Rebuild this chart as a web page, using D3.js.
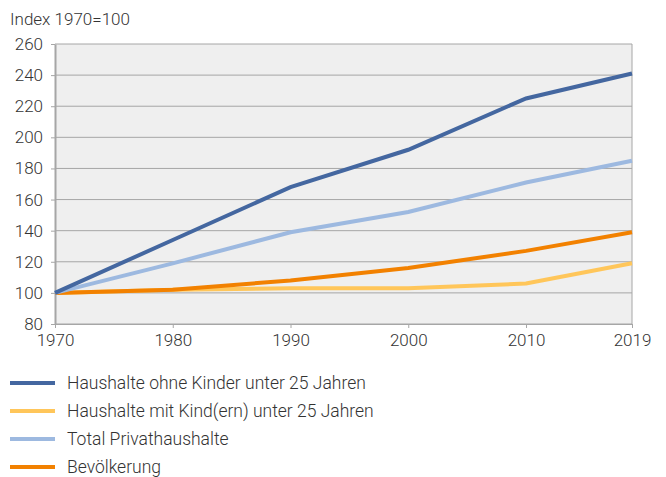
<!DOCTYPE html>
<html>
<head>
<meta charset="utf-8">
<script src="https://cdn.jsdelivr.net/npm/d3@7"></script>
<style>
  body { margin: 0; background: #fff; font-family: Roboto, "Noto Sans", sans-serif; }
  text { font-family: Roboto, sans-serif; font-weight: 300; }
  .axis text { font-size: 17px; fill: #333; }
  .axis path, .axis line { stroke: #a6a6a6; }
</style>
</head>
<body>
<div class="chart"></div>
<script>
const width = 666;
const height = 477;
const margin = {top: 44, right: 34, bottom: 153, left: 55};
const innerWidth = width - margin.left - margin.right;
const innerHeight = height - margin.top - margin.bottom;

// data
const years = [1970, 1980, 1990, 2000, 2010, 2019];
const ohneKinder = [100, 134, 168, 192, 225, 241];
const mitKindern = [100, 102, 103, 103, 106, 119];
const totalHaushalte = [100, 119, 139, 152, 171, 185];
const bevoelkerung = [100, 102, 108, 116, 127, 139];
const yTicks = [80, 100, 120, 140, 160, 180, 200, 220, 240, 260];

const series = [
  {name: 'Haushalte ohne Kinder unter 25 Jahren', values: ohneKinder, color: '#4467a0'},
  {name: 'Haushalte mit Kind(ern) unter 25 Jahren', values: mitKindern, color: '#ffc65a'},
  {name: 'Total Privathaushalte', values: totalHaushalte, color: '#9db9e0'},
  {name: 'Bevölkerung', values: bevoelkerung, color: '#f28100'}
];
// draw order: yellow and orange below, blues on top
const drawOrder = [1, 3, 2, 0];

const svg = d3.select('.chart').append('svg')
  .attr('width', width)
  .attr('height', height);

const g = svg.append('g').attr('transform', `translate(${margin.left},${margin.top})`);

const xScale = d3.scaleLinear().domain([1970, 2019]).range([0, innerWidth]);
const yScale = d3.scaleLinear().domain([80, 260]).range([innerHeight, 0]);

g.append('rect')
  .attr('width', innerWidth)
  .attr('height', innerHeight)
  .attr('fill', '#efefef');

// gridlines
g.selectAll('.grid')
  .data(yTicks)
  .enter().append('line')
  .attr('x1', 0).attr('x2', innerWidth)
  .attr('y1', d => yScale(d)).attr('y2', d => yScale(d))
  .attr('stroke', '#a6a6a6')
  .attr('stroke-width', 1);

// right border
g.append('line')
  .attr('x1', innerWidth).attr('x2', innerWidth)
  .attr('y1', 0).attr('y2', innerHeight)
  .attr('stroke', '#a6a6a6');

const yAxis = d3.axisLeft(yScale).tickValues(yTicks).tickSize(4).tickPadding(8).tickSizeOuter(0);
g.append('g').attr('class', 'axis').call(yAxis)
  .call(a => a.select('.domain').attr('stroke-width', 2));

const xAxis = d3.axisBottom(xScale).tickValues(years).tickFormat(d3.format('d')).tickSize(4).tickPadding(6).tickSizeOuter(0);
g.append('g').attr('class', 'axis')
  .attr('transform', `translate(0,${innerHeight})`)
  .call(xAxis);

const line = d3.line()
  .x((d, i) => xScale(years[i]))
  .y(d => yScale(d));

drawOrder.forEach(k => {
  g.append('path')
    .datum(series[k].values)
    .attr('fill', 'none')
    .attr('stroke', series[k].color)
    .attr('stroke-width', 4)
    .attr('d', line);
});

// title
svg.append('text')
  .attr('x', 10).attr('y', 25)
  .attr('font-size', 17)
  .attr('fill', '#333')
  .text('Index 1970=100');

// legend
const legend = svg.append('g').attr('id', 'legend')
  .selectAll('g')
  .data(series)
  .enter().append('g')
  .attr('transform', (d, i) => `translate(0,${383 + i * 28})`);

legend.append('line')
  .attr('x1', 10).attr('x2', 55)
  .attr('stroke', d => d.color)
  .attr('stroke-width', 4);

legend.append('text')
  .attr('x', 67).attr('y', 6)
  .attr('font-size', 17.5)
  .attr('fill', '#333')
  .text(d => d.name);
</script>
</body>
</html>
